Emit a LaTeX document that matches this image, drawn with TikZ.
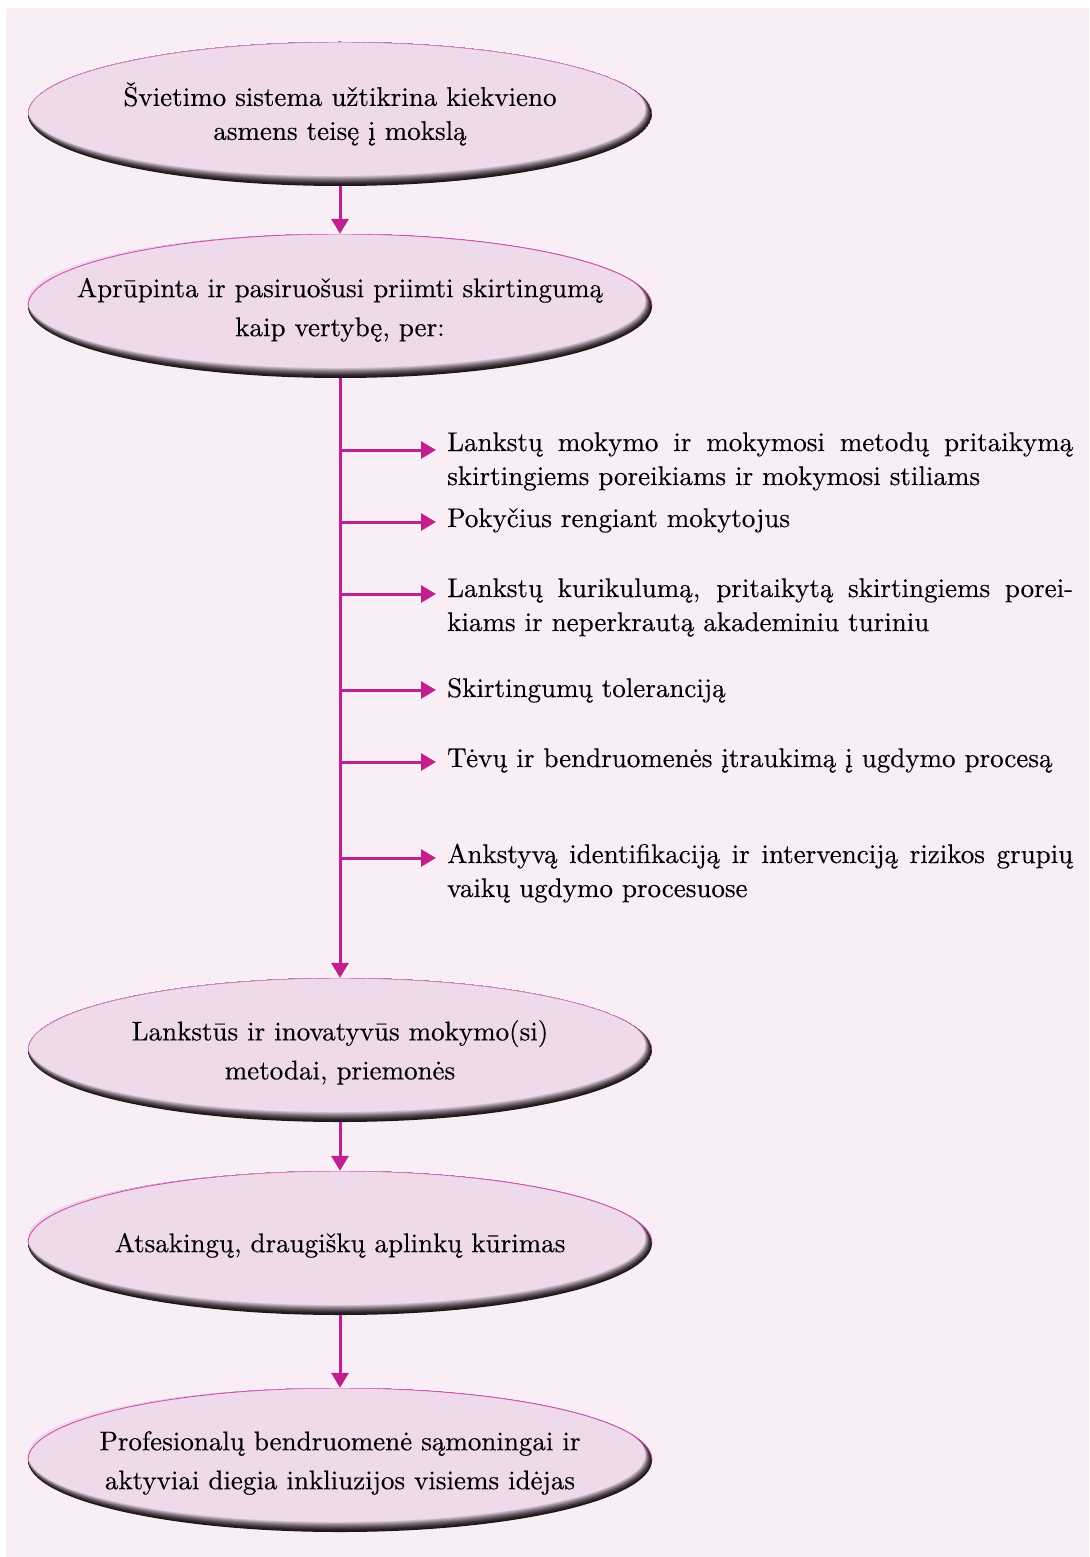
\documentclass[tikz,border=0pt]{standalone}
\usepackage{fontspec}
\setmainfont{lmroman10-regular}[Extension=.otf, FakeBold=0.3]
\usetikzlibrary{shapes.geometric,arrows.meta}

\definecolor{pagebg}{HTML}{F9EEF6}
\definecolor{ellfill}{HTML}{EFDAEB}
\definecolor{bevel}{HTML}{1C161A}
\definecolor{flowpink}{HTML}{C0208E}
\definecolor{rimpink}{HTML}{D24FAE}

% shaded lower rim of an oval box, drawn inside the node outline
\newcommand\bevelfill{%
  \foreach \k in {0,...,12}{%
    \pgfmathsetmacro\s{0.42*\k}%
    \pgfmathsetmacro\u{0.28*\k}%
    \pgfmathsetmacro\m{100*(\k/12)^1.5}%
    \fill[ellfill!\m!bevel]
      ([xshift=-\u pt,yshift=\s pt]path picture bounding box.center)
      ellipse[x radius=312-\u, y radius=72-\s];
  }%
  \draw[rimpink, line width=0.9pt]
    ([xshift=-312pt]path picture bounding box.center)
    arc[start angle=180, end angle=360, x radius=312, y radius=72];
}

\tikzset{
  stage/.style={ellipse, minimum width=624pt, minimum height=144pt,
    inner sep=0pt, align=center, text=black,
    font=\fontsize{27}{39}\selectfont, path picture={\bevelfill}},
  item/.style={anchor=base west, inner sep=0pt, text width=626pt,
    align=justify, font=\fontsize{27}{34}\selectfont},
  flow/.style={draw=flowpink, line width=3pt,
    -{Triangle[length=15pt,width=17pt]}},
}

\begin{document}
\begin{tikzpicture}[x=1pt,y=-1pt]
\useasboundingbox (0,0) rectangle (1089,1557);
\fill[white] (0,0) rectangle (1089,1557);
\fill[pagebg] (6,8) rectangle (1089,1557);

% main chain of ovals
\node[stage, font=\fontsize{27}{34}\selectfont] (e1) at (340,114)
  {Švietimo sistema užtikrina kiekvieno\\asmens teisę į mokslą};
\node[stage] (e2) at (340,306)
  {\rule{0pt}{27pt}Aprūpinta ir pasiruošusi priimti skirtingumą\\kaip vertybę, per:};
\node[stage] (e3) at (340,1050)
  {\rule{0pt}{25pt}Lankstūs ir inovatyvūs mokymo(si)\\metodai, priemonės};
\node[stage] (e4) at (340,1243)
  {\rule{0pt}{24pt}Atsakingų, draugiškų aplinkų kūrimas};
\node[stage] (e5) at (340,1460)
  {\rule{0pt}{25pt}Profesionalų bendruomenė sąmoningai ir\\aktyviai diegia inkliuzijos visiems idėjas};

% listed measures
\node[item] (i1) at (447,451)
  {Lankstų mokymo ir mokymosi metodų pritaikymą\linebreak skirtingiems poreikiams ir mokymosi stiliams};
\node[item] (i2) at (447,527)
  {Pokyčius rengiant mokytojus};
\node[item] (i3) at (447,597)
  {Lankstų kurikulumą, pritaikytą skirtingiems porei-\linebreak kiams ir neperkrautą akademiniu turiniu};
\node[item] (i4) at (447,697)
  {Skirtingumų toleranciją};
\node[item] (i5) at (447,767)
  {Tėvų ir bendruomenės įtraukimą į ugdymo procesą};
\node[item] (i6) at (447,863)
  {Ankstyvą identifikaciją ir intervenciją rizikos grupių\linebreak vaikų ugdymo procesuose};

% branching points on the stem
\coordinate (j1) at (340,450);
\coordinate (j2) at (340,522);
\coordinate (j3) at (340,594);
\coordinate (j4) at (340,690);
\coordinate (j5) at (340,762);
\coordinate (j6) at (340,858);

% connectors
\draw[flow] (e1.south) -- (e2.north);
\draw[flow] (e2.south) -- (e3.north);
\draw[flow] (e3.south) -- (e4.north);
\draw[flow] (e4.south) -- (e5.north);
\foreach \n in {1,...,6}
  \draw[flow, shorten >=11pt] (j\n) -- (j\n -| i\n.west);
\end{tikzpicture}
\end{document}
